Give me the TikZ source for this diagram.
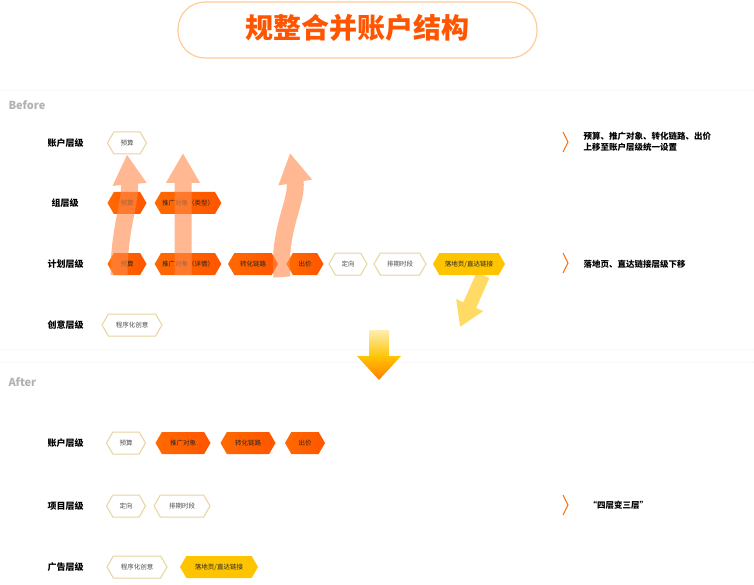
\documentclass[tikz,border=0pt]{standalone}
\usepackage{fontspec}
\setmainfont{Noto Sans CJK SC}
\usetikzlibrary{shapes.symbols,arrows.meta,calc}
\definecolor{org}{HTML}{FF6A00}
\definecolor{orgd}{HTML}{FF5500}
\definecolor{tan}{HTML}{E8D3A0}
\definecolor{ylw}{HTML}{FFC400}
\definecolor{arr}{HTML}{FF8A4A}
\begin{document}
\begin{tikzpicture}[x=1pt,y=-1pt,
 hex/.style={signal,signal to=east and west,signal pointer angle=120,minimum height=22,inner sep=1pt,font=\fontsize{6.5}{7}\selectfont},
 hexW/.style={hex,draw=tan,line width=1pt,fill=white,text=black!70},
 hexO/.style={hex,draw=none,left color=org,right color=orgd,text=black!85},
 hexY/.style={hex,draw=none,fill=ylw,text=black!85},
 lvl/.style={font=\bfseries\fontsize{9}{10}\selectfont,anchor=west},
 note/.style={font=\bfseries\fontsize{8.5}{11}\selectfont,anchor=west,align=left},
 chev/.style={draw=org,line width=1pt},
 up/.style={draw=arr,line width=17pt,-{Triangle[length=30pt,width=32pt]}},
 panel/.style={draw=black!10,rounded corners=6pt,fill=white}]
\useasboundingbox (0,0) rectangle (754,585);
% title
\draw[draw=orange!40,line width=1.2pt,rounded corners=27pt,fill=white] (178,2) rectangle (537,58);
\node[font=\bfseries\fontsize{28}{30}\selectfont,text=orgd] (title) at (357,28) {规整合并账户结构};
% panels
\draw[panel] (-5,90) rectangle (759,350);
\draw[panel] (-5,362) rectangle (759,590);
\node[font=\bfseries\fontsize{11}{12}\selectfont,text=black!30,anchor=west] (bef) at (5,105) {Before};
\node[font=\bfseries\fontsize{11}{12}\selectfont,text=black!30,anchor=west] (aft) at (5,382) {After};
% before levels
\node[lvl] (l1) at (44,143) {账户层级};
\node[lvl] (l2) at (48,203) {组层级};
\node[lvl] (l3) at (44,264) {计划层级};
\node[lvl] (l4) at (44,325) {创意层级};
\node[hexW,minimum width=39] (a1) at (127,143) {预算};
\node[hexO,minimum width=39] (g1) at (127,203) {预算};
\node[hexO,minimum width=63] (g2) at (188,203) {推广对象（类型）};
\node[hexO,minimum width=39] (p1) at (127,264) {预算};
\node[hexO,minimum width=63] (p2) at (188,264) {推广对象（详情）};
\node[hexO,minimum width=50] (p3) at (253,264) {转化链路};
\node[hexO,minimum width=37] (p4) at (305,264) {出价};
\node[hexW,minimum width=38] (p5) at (348,264) {定向};
\node[hexW,minimum width=52] (p6) at (400,264) {排期时段};
\node[hexY,minimum width=72] (p7) at (469,264) {落地页/直达链接};
\node[hexW,minimum width=60] (c1) at (132,325) {程序化创意};
% arrows
\coordinate (t2) at (183,153);
\coordinate (t3) at (290,153);
\coordinate (s3) at (282,277);
\coordinate (t7) at (460,327);
\begin{scope}[transparency group,opacity=0.6]
\draw[up] ($(p1.south)+(-8,0)$) to[out=90,in=-85] (a1.south);
\end{scope}
\begin{scope}[transparency group,opacity=0.6]
\draw[up] (p2.south -| t2) -- (t2);
\end{scope}
\begin{scope}[transparency group,opacity=0.6]
\draw[up] (s3) to[out=95,in=-80] (t3);
\end{scope}
\begin{scope}[transparency group,opacity=0.6]
\draw[draw=ylw,line width=14pt,-{Triangle[length=24pt,width=28pt]}] ($(p7.south)+(14,0)$) -- (t7);
\end{scope}
% notes before
\draw[chev] (563,132) -- (568,142) -- (563,152);
\node[note] (n1) at (580,142) {预算、推广对象、转化链路、出价\\上移至账户层级统一设置};
\draw[chev] (563,253) -- (568,263) -- (563,273);
\node[note] (n2) at (580,264) {落地页、直达链接层级下移};
% big down arrow
\shade[top color=ylw!30,bottom color=ylw] (369,330) rectangle (389,357);
\shade[top color=ylw,bottom color=orange] (357,356) -- (401,356) -- (379,380) -- cycle;
% after
\node[lvl] (m1) at (44,443) {账户层级};
\node[lvl] (m2) at (44,506) {项目层级};
\node[lvl] (m3) at (44,567) {广告层级};
\node[hexW,minimum width=39] (b1) at (126,443) {预算};
\node[hexO,minimum width=55] (b2) at (183,443) {推广对象};
\node[hexO,minimum width=55] (b3) at (248,443) {转化链路};
\node[hexO,minimum width=40] (b4) at (305,443) {出价};
\node[hexW,minimum width=39] (d1) at (126,506) {定向};
\node[hexW,minimum width=56] (d2) at (182,506) {排期时段};
\node[hexW,minimum width=60] (e1) at (137,567) {程序化创意};
\node[hexY,minimum width=78] (e2) at (219,567) {落地页/直达链接};
\draw[chev] (563,495) -- (568,505) -- (563,515);
\node[note] (n3) at (585,505) {“四层变三层”};
\end{tikzpicture}
\end{document}
